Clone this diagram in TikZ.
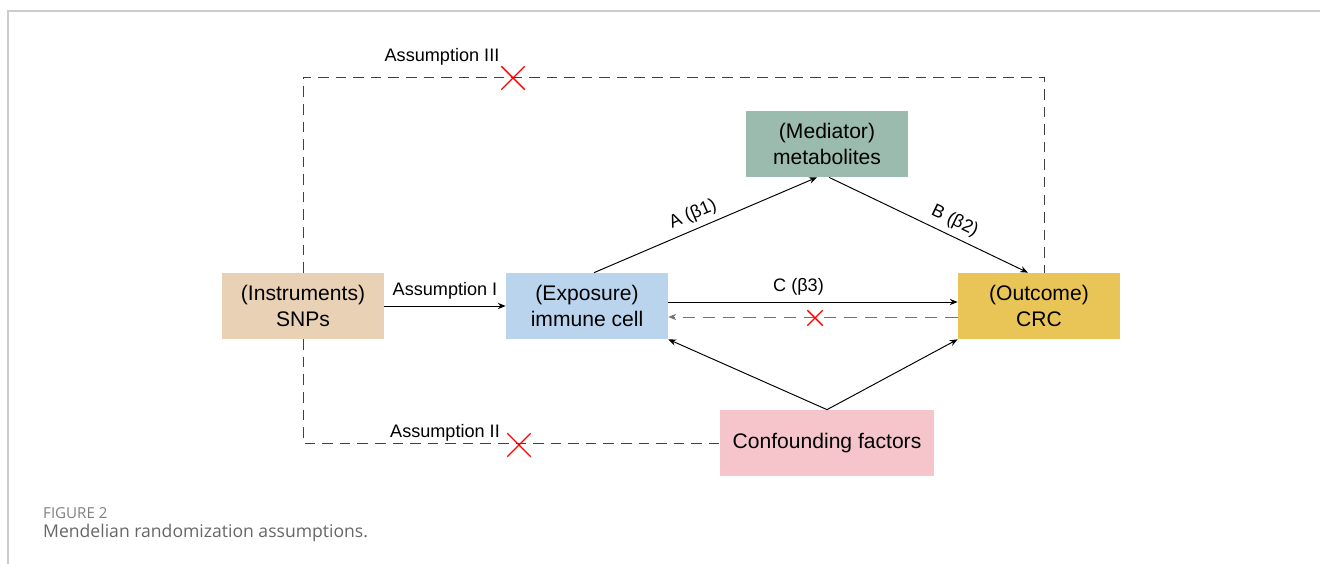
\documentclass[tikz,border=0pt]{standalone}
\usepackage{fontspec}
\setmainfont{Liberation Sans}
\newfontfamily\capfont{Open Sans}
\usetikzlibrary{positioning,arrows.meta,shapes.misc}
\definecolor{snpfill}{HTML}{E9D1B5}
\definecolor{expfill}{HTML}{BAD4EE}
\definecolor{medfill}{HTML}{9ABBAD}
\definecolor{outfill}{HTML}{E9C557}
\definecolor{confill}{HTML}{F6C5CC}
\tikzset{
	box/.style={minimum width=3.24cm, minimum height=1.32cm, inner sep=0pt, align=center, font=\fontsize{12}{15}\selectfont},
	arr/.style={-{Stealth[length=4.5pt,width=3.6pt]}, line width=0.55pt},
	frame/.style={dash pattern=on 6pt off 4pt, draw=black!75, line width=0.55pt},
	lbl/.style={font=\fontsize{10.3}{12}\selectfont}
}
\newcommand{\redcross}[3]{\node[cross out, draw=red, line width=0.8pt, minimum size=#3, inner sep=0pt] (#1) at (#2) {};}

\begin{document}
\begin{tikzpicture}[x=0.02cm, y=-0.02cm]

					\useasboundingbox (0,0) rectangle (1320,564);
					\draw[black!20, line width=0.85pt] (8,564) -- (8,11) -- (1320,11);

					\node[box, fill=snpfill] (snps) at (303,306) {(Instruments)\\SNPs};
					\node[box, fill=expfill] (exposure) at (587,306) {(Exposure)\\immune cell};
					\node[box, fill=medfill] (mediator) at (827,144) {(Mediator)\\metabolites};
					\node[box, fill=outfill] (outcome) at (1039,306) {(Outcome)\\CRC};
					\node[box, fill=confill, minimum width=4.28cm] (confound) at (827,443) {Confounding factors};

					\coordinate (ftop) at (303,77);
					\draw[frame] (snps.north) -- (ftop) -| ([xshift=0.1cm]outcome.north);
					\draw[frame] (snps.south) |- (confound.west);

					\node[lbl] (asmIII) at (442,57) {Assumption III};
					\node[lbl] (asmII) at (445,433) {Assumption II};
					\redcross{crossIII}{513,78}{0.44cm}
					\redcross{crossII}{519,445}{0.44cm}

					\draw[arr] (snps.east) -- node[lbl, above] {Assumption I} (exposure.west);

					\draw[arr] ([xshift=0.14cm]exposure.north) -- node[lbl, pos=0.47, above, sloped] {A (β1)} ([xshift=-0.2cm]mediator.south);
					\draw[arr] ([xshift=0.04cm]mediator.south) -- node[lbl, pos=0.6, above, sloped] {B (β2)} ([xshift=-0.22cm]outcome.north);

					\draw[arr] ([yshift=0.08cm]exposure.east) -- node[lbl, pos=0.45, above] {C (β3)} ([yshift=0.08cm]outcome.east -| outcome.west);
					\draw[arr, black!55, dash pattern=on 7pt off 4.5pt] ([yshift=-0.22cm]outcome.west) -- ([yshift=-0.22cm]exposure.east);
					\redcross{crossC}{815,318}{0.28cm}

					\draw[arr] (confound.north) -- (exposure.south east);
					\draw[arr] (confound.north) -- (outcome.south west);

					\node[anchor=west, text=black!50, font=\capfont\fontsize{8.6}{10}\selectfont] (figno) at (37,513) {FIGURE 2};
					\node[anchor=west, text=black!60, font=\capfont\fontsize{10}{12}\selectfont] (figcap) at (37,533) {Mendelian randomization assumptions.};

\end{tikzpicture}
\end{document}
